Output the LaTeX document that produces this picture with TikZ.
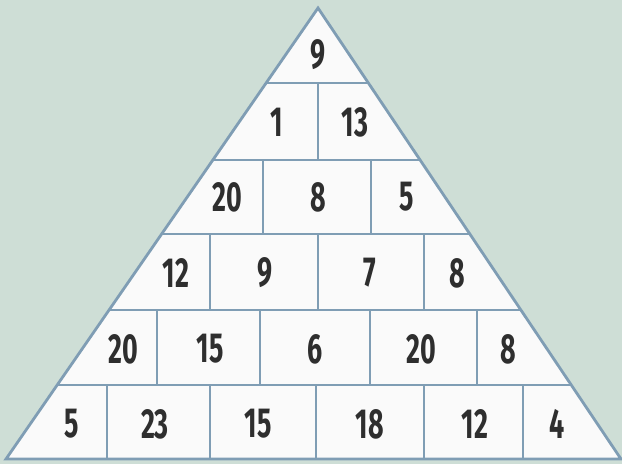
\documentclass[tikz,border=0pt]{standalone}
\usepackage{fontspec}
\newfontfamily\numfont{Fira Sans}[FakeStretch=0.64]
\definecolor{bgcol}{HTML}{CEDED6}
\definecolor{linecol}{HTML}{7F9DB4}
\definecolor{cellcol}{HTML}{FAFAFA}
\definecolor{txtcol}{HTML}{2E2E2E}
\begin{document}
\begin{tikzpicture}[x=1pt,y=-1pt,
  num/.style={text=txtcol,font=\numfont\bfseries\fontsize{42}{42}\selectfont,inner sep=0pt,anchor=center},
  grid/.style={draw=linecol,line width=2.8pt}]
\useasboundingbox (0,0) rectangle (622,464);
\fill[bgcol] (0,0) rectangle (622,464);
\coordinate (apex) at (318,8);
\coordinate (bl) at (6,459);
\coordinate (br) at (621,459);
\fill[cellcol] (apex) -- (bl) -- (br) -- cycle;
\begin{scope}
\clip (apex) -- (bl) -- (br) -- cycle;
\foreach \y in {83,160,234,310,385} {\draw[grid] (0,\y) -- (622,\y);}
\end{scope}
% vertical dividers
\draw[grid] (318,83) -- (318,160);
\foreach \x in {263,371} {\draw[grid] (\x,160) -- (\x,234);}
\foreach \x in {210,318,424} {\draw[grid] (\x,234) -- (\x,310);}
\foreach \x in {157,260,370,477} {\draw[grid] (\x,310) -- (\x,385);}
\foreach \x in {107,210,316,424,523} {\draw[grid] (\x,385) -- (\x,459);}
\draw[grid,line join=miter] (apex) -- (bl) -- (br) -- cycle;
% numbers
\node[num] (r1a) at (318,55) {9};
\node[num] (r2a) at (277,122) {1};
\node[num] (r2b) at (355,122) {13};
\node[num] (r3a) at (227,197) {20};
\node[num] (r3b) at (318,197) {8};
\node[num] (r3c) at (407,197) {5};
\node[num] (r4a) at (176,273) {12};
\node[num] (r4b) at (265,273) {9};
\node[num] (r4c) at (370,273) {7};
\node[num] (r4d) at (457,273) {8};
\node[num] (r5a) at (123,349) {20};
\node[num] (r5b) at (210,349) {15};
\node[num] (r5c) at (315,349) {6};
\node[num] (r5d) at (421,349) {20};
\node[num] (r5e) at (508,349) {8};
\node[num] (r6a) at (72,424) {5};
\node[num] (r6b) at (155,424) {23};
\node[num] (r6c) at (258,424) {15};
\node[num] (r6d) at (370,424) {18};
\node[num] (r6e) at (475,424) {12};
\node[num] (r6f) at (557,424) {4};
\end{tikzpicture}
\end{document}
